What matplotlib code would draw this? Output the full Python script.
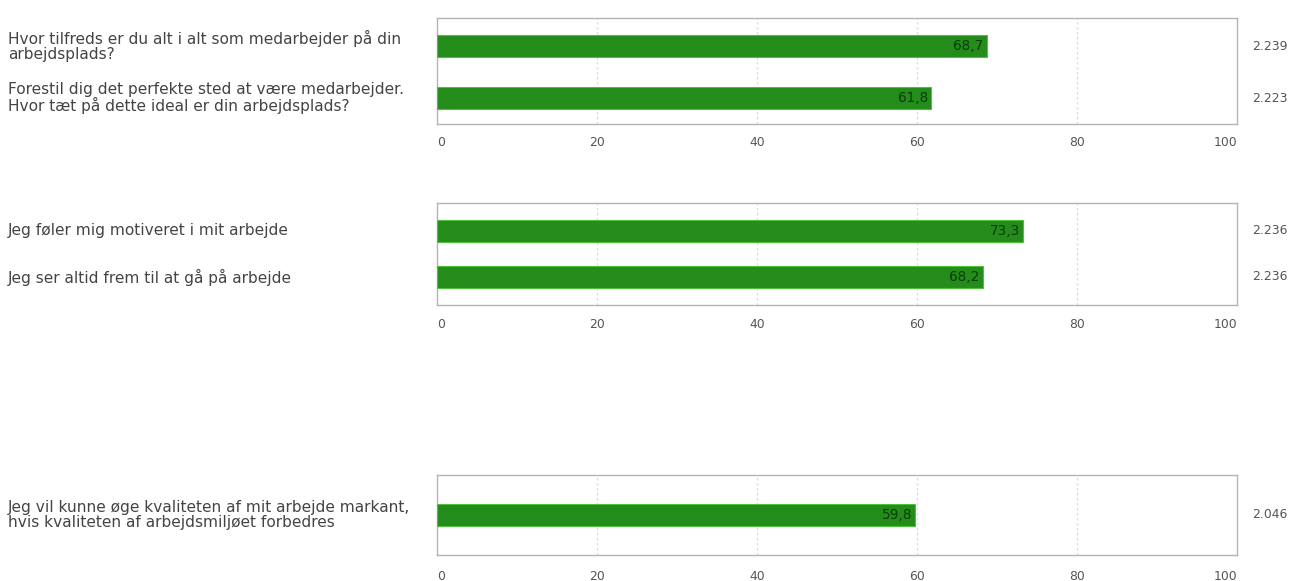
import matplotlib
matplotlib.use("Agg")
import matplotlib.pyplot as plt

plt.rcParams['font.family'] = ['DejaVu Sans']

# Survey questions, grouped by panel
questions_1 = [
    "Hvor tilfreds er du alt i alt som medarbejder på din\narbejdsplads?",
    "Forestil dig det perfekte sted at være medarbejder.\nHvor tæt på dette ideal er din arbejdsplads?",
]
scores_1 = [68.7, 61.8]
counts_1 = ["2.239", "2.223"]

questions_2 = [
    "Jeg føler mig motiveret i mit arbejde",
    "Jeg ser altid frem til at gå på arbejde",
]
scores_2 = [73.3, 68.2]
counts_2 = ["2.236", "2.236"]

questions_3 = [
    "Jeg vil kunne øge kvaliteten af mit arbejde markant,\nhvis kvaliteten af arbejdsmiljøet forbedres",
]
scores_3 = [59.8]
counts_3 = ["2.046"]

x_ticks = [0, 20, 40, 60, 80, 100]

W, H = 1294, 581
fig = plt.figure(figsize=(W / 100, H / 100), dpi=100)

BAR_FACE = "#238c1b"
BAR_EDGE = "#4fc03a"
VALUE_COLOR = "#0b3d06"
TEXT_COLOR = "#444444"
TICK_COLOR = "#555555"
FRAME_COLOR = "#b4b4b4"
GRID_COLOR = "#e6d6e2"
FS_Q = 11.1
FS_T = 8.9
FS_V = 9.8

AX_LEFT, AX_RIGHT = 437, 1237


def draw_panel(questions, scores, counts, top_px, bottom_px, first_px, step_px, tick_px):
    ax = fig.add_axes([AX_LEFT / W, 1 - bottom_px / H,
                       (AX_RIGHT - AX_LEFT) / W, (bottom_px - top_px) / H])
    n = len(scores)
    # y data units: one unit per bar step
    y_top = (top_px - first_px) / step_px
    y_bot = (bottom_px - first_px) / step_px
    ax.set_ylim(y_bot, y_top)
    ax.set_xlim(0, 100)
    ypos = list(range(n))
    bar_h = 22 / step_px
    ax.barh(ypos, scores, height=bar_h, color=BAR_FACE, edgecolor=BAR_EDGE,
            linewidth=0.8, zorder=3)
    for y, v, c, q in zip(ypos, scores, counts, questions):
        ax.text(v - 0.4, y, f"{v:.1f}".replace(".", ","), ha="right", va="center",
                fontsize=FS_V, color=VALUE_COLOR, zorder=4)
        ax.text(1.019, y, c, transform=ax.get_yaxis_transform(),
                ha="left", va="center", fontsize=FS_T, color=TICK_COLOR)
        ax.text(-429 / (AX_RIGHT - AX_LEFT), y, q, transform=ax.get_yaxis_transform(),
                ha="left", va="center", fontsize=FS_Q, color=TEXT_COLOR,
                linespacing=1.02)
    for xv in x_ticks[1:-1]:
        ax.axvline(xv, color=GRID_COLOR, linewidth=0.9, linestyle=(0, (2, 2)), zorder=1)
    ax.set_xticks([])
    ax.set_yticks([])
    for sp in ax.spines.values():
        sp.set_color(FRAME_COLOR)
        sp.set_linewidth(1.0)
    # tick labels below frame
    label_y = 1 - tick_px / H
    for xv in x_ticks:
        fx = (AX_LEFT + xv / 100 * (AX_RIGHT - AX_LEFT)) / W
        ha = "center"
        if xv == x_ticks[0]:
            ha = "left"
        elif xv == x_ticks[-1]:
            ha = "right"
        fig.text(fx, label_y, str(xv), ha=ha, va="center", fontsize=FS_T, color=TICK_COLOR)
    return ax


draw_panel(questions_1, scores_1, counts_1, 18, 124, 46, 52, 143)
draw_panel(questions_2, scores_2, counts_2, 203, 305, 231, 46, 324)
draw_panel(questions_3, scores_3, counts_3, 475, 555, 515, 46, 577)

fig.savefig("out.png", dpi=100, facecolor="white")
